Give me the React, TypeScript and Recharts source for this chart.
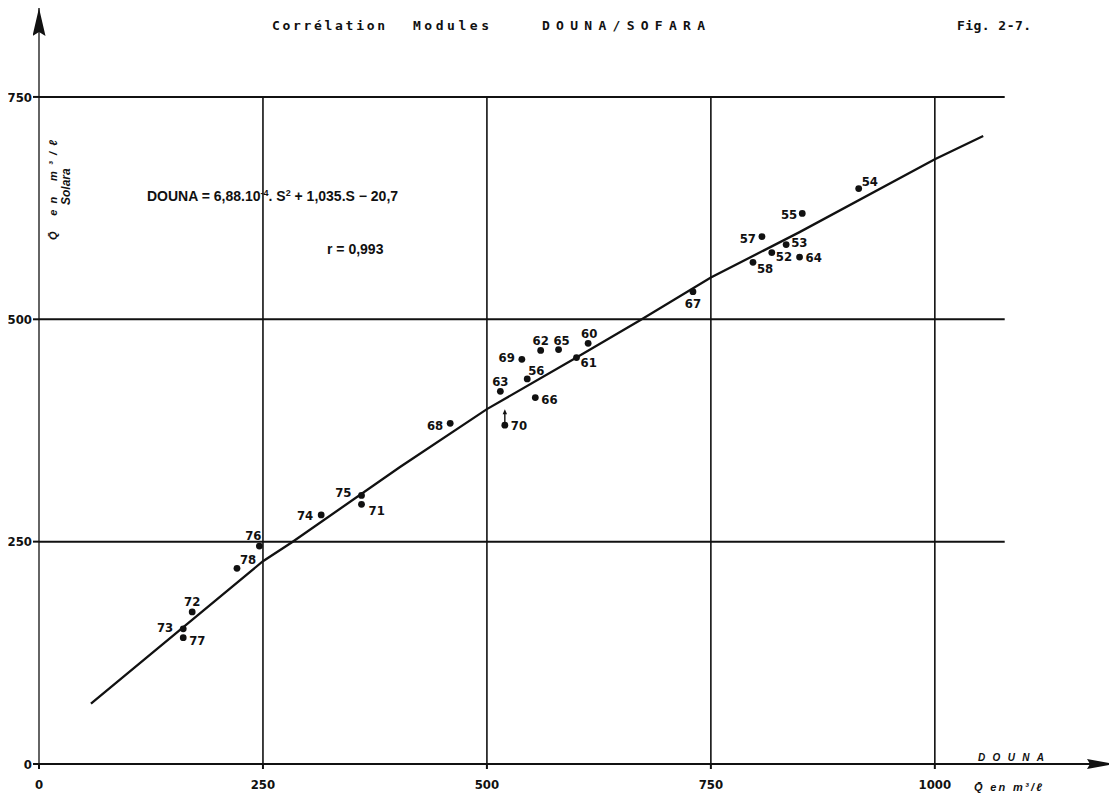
import { ScatterChart, Scatter, XAxis, YAxis, ReferenceLine } from 'recharts';

// Annual mean discharge (m3/s), year label -> DOUNA (x) vs SOFARA (y)
const YEARS = ['54', '55', '57', '53', '52', '64', '58', '67', '60', '62', '65', '69', '61', '56', '63', '66', '70', '68', '75', '71', '74', '76', '78', '72', '73', '77'];
const DOUNA = [915, 852, 807, 834, 818, 849, 797, 730, 613, 560, 580, 539, 600, 545, 515, 554, 520, 459, 360, 360, 315, 246, 221, 171, 161, 161];
const SOFARA = [647, 619, 593, 584, 575, 570, 564, 531, 473, 465, 466, 455, 457, 433, 419, 412, 381, 383, 302, 292, 280, 245, 220, 171, 152, 142];

// fitted regression curve
const CURVE_DOUNA = [58, 250, 282, 403, 500, 600, 671, 750, 849, 1000, 1054];
const CURVE_SOFARA = [68, 228, 249, 334, 399, 457, 499, 547, 598, 680, 706];

const X_TICKS = [0, 250, 500, 750, 1000];
const Y_TICKS = [0, 250, 500, 750];
const GRID_X_END = 1078;

// label placement around each dot: [dx, dy, anchor]
const LABEL_POS: Record<string, [number, number, 'start' | 'middle' | 'end']> = {
  '54': [3, -3, 'start'], '55': [-5, 6, 'end'], '57': [-6, 6, 'end'], '53': [5, 2, 'start'],
  '52': [4, 8, 'start'], '64': [6, 5, 'start'], '58': [4, 11, 'start'], '67': [0, 16, 'middle'],
  '60': [1, -5, 'middle'], '62': [0, -5, 'middle'], '65': [3, -5, 'middle'], '69': [-7, 3, 'end'],
  '61': [4, 9, 'start'], '56': [1, -4, 'start'], '63': [0, -5, 'middle'], '66': [6, 6, 'start'],
  '70': [6, 5, 'start'], '68': [-7, 7, 'end'], '75': [-10, 2, 'end'], '71': [7, 11, 'start'],
  '74': [-8, 5, 'end'], '76': [-6, -6, 'middle'], '78': [3, -4, 'start'], '72': [0, -6, 'middle'],
  '73': [-10, 3, 'end'], '77': [6, 7, 'start'],
};

const points = YEARS.map((year, i) => ({ year, x: DOUNA[i], y: SOFARA[i] }));
const curve = CURVE_DOUNA.map((x, i) => ({ x, y: CURVE_SOFARA[i] }));

const INK = '#111';
const LABEL_FONT = '"Liberation Sans Narrow", "DejaVu Sans Condensed", "Liberation Sans", sans-serif';
const SANS = '"Liberation Sans", Arial, sans-serif';

function YearDot(props: any) {
  const { cx, cy, payload } = props;
  const [dx, dy, anchor] = LABEL_POS[payload.year] || [5, 5, 'start'];
  return (
    <g>
      <circle cx={cx} cy={cy} r={3.4} fill={INK} />
      {payload.year === '70' && (
        <g>
          <line x1={cx} y1={cy - 3} x2={cx} y2={cy - 13} stroke={INK} strokeWidth={1.4} />
          <path d={`M${cx - 2.2},${cy - 11} L${cx},${cy - 16} L${cx + 2.2},${cy - 11} Z`} fill={INK} />
        </g>
      )}
      <text
        x={cx + dx}
        y={cy + dy}
        textAnchor={anchor}
        fontSize={13}
        fontWeight={700}
        fontFamily={LABEL_FONT}
        fill={INK}
      >
        {payload.year}
      </text>
    </g>
  );
}

const tickStyle = { fill: INK, fontSize: 13, fontWeight: 700, fontFamily: LABEL_FONT };

export default function App() {
  return (
    <div style={{ position: 'relative', width: 1109, height: 785 }}>
      <svg width={0} height={0} style={{ position: 'absolute' }}>
        <defs>
          <marker id="arrow-y" markerUnits="userSpaceOnUse" markerWidth={30} markerHeight={14} refX={28} refY={6.5} orient="auto-start-reverse">
            <path d="M0,0 L28,6.5 L0,13 L4,6.5 Z" fill={INK} />
          </marker>
          <marker id="arrow-x" markerUnits="userSpaceOnUse" markerWidth={30} markerHeight={12} refX={27} refY={5} orient="auto">
            <path d="M0,0 L27,5 L0,10 L3,5 Z" fill={INK} />
          </marker>
        </defs>
      </svg>

      <ScatterChart width={1109} height={785} margin={{ top: 0, right: 3, bottom: 0, left: 0 }}>
        <XAxis
          type="number"
          dataKey="x"
          domain={[0, 1200]}
          ticks={X_TICKS}
          interval={0}
          allowDataOverflow
          height={29}
          tickSize={5}
          tickMargin={11}
          axisLine={{ stroke: INK, strokeWidth: 2.2, markerEnd: 'url(#arrow-x)' }}
          tickLine={{ stroke: INK, strokeWidth: 2 }}
          tick={tickStyle}
        />
        <YAxis
          type="number"
          dataKey="y"
          domain={[0, 850]}
          ticks={Y_TICKS}
          interval={0}
          allowDataOverflow
          width={31}
          tickSize={6}
          tickMargin={1}
          axisLine={{ stroke: INK, strokeWidth: 1.3, markerStart: 'url(#arrow-y)' }}
          tickLine={{ stroke: INK, strokeWidth: 2 }}
          tick={tickStyle}
        />

        {Y_TICKS.filter((v) => v > 0).map((v) => (
          <ReferenceLine
            key={`h${v}`}
            segment={[{ x: 0, y: v }, { x: GRID_X_END, y: v }]}
            stroke={INK}
            strokeWidth={2}
            ifOverflow="visible"
          />
        ))}
        {X_TICKS.filter((v) => v > 0).map((v) => (
          <ReferenceLine
            key={`v${v}`}
            segment={[{ x: v, y: 0 }, { x: v, y: 750 }]}
            stroke={INK}
            strokeWidth={1.6}
            ifOverflow="visible"
          />
        ))}

        <Scatter
          data={curve}
          line={{ stroke: INK, strokeWidth: 2.3 }}
          lineType="joint"
          shape={() => <g />}
          isAnimationActive={false}
        />
        <Scatter data={points} shape={YearDot} isAnimationActive={false} />
      </ScatterChart>

      <svg
        width={1109}
        height={785}
        style={{ position: 'absolute', left: 0, top: 0, pointerEvents: 'none' }}
      >
        <g transform="translate(-8,-8)" fill={INK}>
          <g fontFamily='"DejaVu Sans Mono", monospace' fontWeight={700} fontSize={13}>
            <text x={272} y={30} textLength={113} lengthAdjust="spacing">Corrélation</text>
            <text x={413} y={30} textLength={76} lengthAdjust="spacing">Modules</text>
            <text x={542} y={30} textLength={163} lengthAdjust="spacing">DOUNA/SOFARA</text>
            <text x={957} y={30} textLength={74} lengthAdjust="spacing">Fig. 2-7.</text>
          </g>

          <text x={147} y={201} fontFamily={SANS} fontWeight={700} fontSize={14}>
            DOUNA = 6,88.10
            <tspan dy={-5} fontSize={9}>-4</tspan>
            <tspan dy={5}>. S</tspan>
            <tspan dy={-5} fontSize={9}>2</tspan>
            <tspan dy={5}> + 1,035.S − 20,7</tspan>
          </text>
          <text x={327} y={254} fontFamily={SANS} fontWeight={700} fontSize={14}>r = 0,993</text>

          <text x={978} y={761} fontFamily={SANS} fontStyle="italic" fontWeight={700} fontSize={10} textLength={66} lengthAdjust="spacing">DOUNA</text>
          <text x={974} y={791} fontFamily={SANS} fontStyle="italic" fontWeight={700} fontSize={11} textLength={68} lengthAdjust="spacing">
            Q̄ en m³/ℓ
          </text>

          <g transform="translate(57,240) rotate(-90)">
            <text x={0} y={0} fontFamily={SANS} fontStyle="italic" fontWeight={700} fontSize={11} textLength={100} lengthAdjust="spacing">
              Q̄ en m³/ℓ
            </text>
          </g>
          <g transform="translate(70,205) rotate(-90)">
            <text x={0} y={0} fontFamily={SANS} fontStyle="italic" fontWeight={700} fontSize={12}>Solara</text>
          </g>
        </g>
      </svg>
    </div>
  );
}
